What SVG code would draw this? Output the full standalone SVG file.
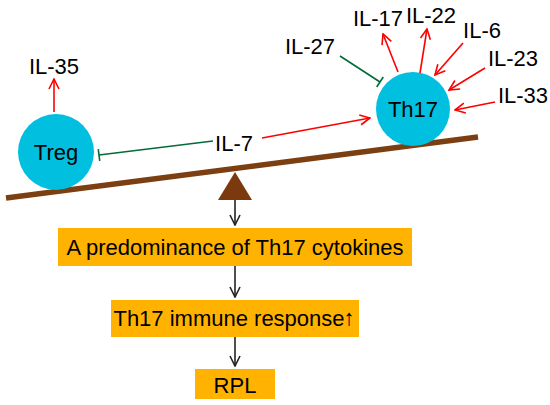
<svg xmlns="http://www.w3.org/2000/svg" width="550" height="405" viewBox="0 0 550 405">
<style>
text{font-family:"Liberation Sans",Arial,sans-serif;font-size:22px;fill:#000}
.c{fill:#00BFDF}
.box{fill:#FFB300}
.r{stroke:#FF0000;stroke-width:1.6;fill:none}
.g{stroke:#006B3C;stroke-width:1.6;fill:none}
.k{stroke:#222;stroke-width:1.6;fill:none}
</style>
<defs>
<marker id="ar" viewBox="0 0 12 12" refX="11" refY="6" markerWidth="12" markerHeight="12" markerUnits="userSpaceOnUse" orient="auto"><path d="M1,1 L11,6 L1,11" fill="none" stroke="#FF0000" stroke-width="1.6"/></marker>
<marker id="ak" viewBox="0 0 12 12" refX="11" refY="6" markerWidth="12" markerHeight="12" markerUnits="userSpaceOnUse" orient="auto"><path d="M1,1 L11,6 L1,11" fill="none" stroke="#222" stroke-width="1.6"/></marker>
<marker id="tb" viewBox="0 0 4 12" refX="2" refY="6" markerWidth="4" markerHeight="12" markerUnits="userSpaceOnUse" orient="auto"><path d="M2,0 L2,12" stroke="#006B3C" stroke-width="1.6"/></marker>
</defs>
<g id="balance">
<line x1="6" y1="198" x2="478" y2="137" stroke="#7B3F12" stroke-width="5.5"/>
<polygon points="235,172 218,200 252,200" fill="#7B3A0E"/>
</g>
<g id="treg"><circle class="c" cx="56" cy="152" r="38"/><text x="56" y="160" text-anchor="middle">Treg</text></g>
<g id="th17"><circle class="c" cx="413" cy="109" r="37"/><text x="413" y="117" text-anchor="middle">Th17</text></g>
<g id="labels">
<text x="54" y="74" text-anchor="middle">IL-35</text>
<text x="234" y="151" text-anchor="middle">IL-7</text>
<text x="310" y="54" text-anchor="middle">IL-27</text>
<text x="378" y="26" text-anchor="middle">IL-17</text>
<text x="431" y="23" text-anchor="middle">IL-22</text>
<text x="482" y="38" text-anchor="middle">IL-6</text>
<text x="513" y="66" text-anchor="middle">IL-23</text>
<text x="523" y="103" text-anchor="middle">IL-33</text>
</g>
<g id="box1"><rect class="box" x="58" y="228" width="354" height="38"/><text x="235" y="255" text-anchor="middle">A predominance of Th17 cytokines</text></g>
<g id="box2"><rect class="box" x="111" y="300" width="248" height="37"/><text x="234" y="326" text-anchor="middle">Th17 immune response<tspan font-size="22" dx="-1" dy="-1">↑</tspan></text></g>
<g id="box3"><rect class="box" x="195" y="369" width="80" height="30"/><text x="235" y="393" text-anchor="middle">RPL</text></g>
<g id="connectors">
<line class="r" x1="54" y1="112" x2="54" y2="79" marker-end="url(#ar)"/>
<line class="g" x1="213" y1="141" x2="99" y2="155" marker-end="url(#tb)"/>
<line class="r" x1="262" y1="138" x2="370" y2="118" marker-end="url(#ar)"/>
<line class="g" x1="340" y1="56" x2="380" y2="82" marker-end="url(#tb)"/>
<line class="r" x1="398" y1="72" x2="383" y2="34" marker-end="url(#ar)"/>
<line class="r" x1="420" y1="73" x2="427" y2="29" marker-end="url(#ar)"/>
<line class="r" x1="463" y1="43" x2="435" y2="75" marker-end="url(#ar)"/>
<line class="r" x1="485" y1="68" x2="449" y2="90" marker-end="url(#ar)"/>
<line class="r" x1="495" y1="102" x2="455" y2="110" marker-end="url(#ar)"/>
<line class="k" x1="235" y1="200" x2="235" y2="225" marker-end="url(#ak)"/>
<line class="k" x1="235" y1="266" x2="235" y2="297" marker-end="url(#ak)"/>
<line class="k" x1="235" y1="337" x2="235" y2="366" marker-end="url(#ak)"/>
</g>
</svg>
